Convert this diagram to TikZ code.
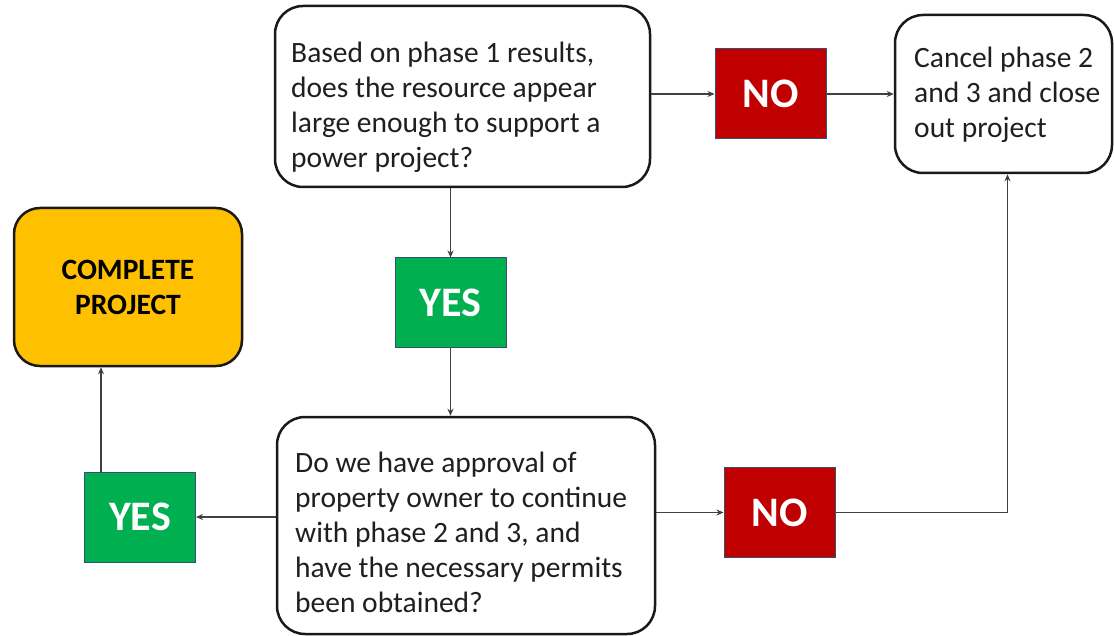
\documentclass[tikz,border=0pt]{standalone}
\usepackage{fontspec}
\setmainfont{Carlito}
\usetikzlibrary{arrows.meta}
\definecolor{cgreen}{HTML}{00B050}
\definecolor{cred}{HTML}{C00000}
\definecolor{corange}{HTML}{FFC000}
\definecolor{boxedge}{HTML}{34506E}
\begin{document}
\begin{tikzpicture}[x=1pt,y=-1pt,
  qbox/.style={draw=black!90, line width=2.5pt, rounded corners=28pt, fill=white, inner sep=0pt},
  qtext/.style={anchor=north west, align=left, inner sep=0pt, font=\fontsize{29.5}{35}\selectfont, text=black!88},
  ans/.style={draw=boxedge, line width=1pt, inner sep=0pt, text=white, font=\bfseries\fontsize{42}{42}\selectfont, minimum width=111pt, minimum height=90pt},
  conn/.style={draw=black!75, line width=1.3pt, -{Stealth[length=7pt,width=6pt]}}]
\fill[white] (0,0) rectangle (1114,636);
\useasboundingbox (0,0) rectangle (1114,636);

% boxes
\node[qbox, minimum width=375pt, minimum height=181pt] (q1) at (462.5,96.5) {};
\node[qbox, minimum width=378pt, minimum height=217pt] (q2) at (466,525.5) {};
\node[qbox, minimum width=217pt, minimum height=158pt] (c1) at (1003.5,94) {};
\node[qbox, fill=corange, minimum width=228pt, minimum height=158pt, rounded corners=26pt,
      align=center, font=\bfseries\fontsize{29.5}{35}\selectfont] (comp) at (128,287) {COMPLETE\\PROJECT};

% texts
\node[qtext] (q1t) at (291,42) {Based on phase 1 results,\\does the resource appear\\large enough to support a\\power project?};
\node[qtext] (q2t) at (295,452) {Do we have approval of\\property owner to continue\\with phase 2 and 3, and\\have the necessary permits\\been obtained?};
\node[qtext] (c1t) at (914,47) {Cancel phase 2\\and 3 and close\\out project};

% answers
\node[ans, fill=cred] (no1) at (770.5,94) {NO};
\node[ans, fill=cgreen] (yesm) at (450.5,303) {YES};
\node[ans, fill=cgreen] (yesl) at (140,517) {YES};
\node[ans, fill=cred] (no2) at (779.5,512.5) {NO};

% connectors
\draw[conn] (q1.east |- no1.west) -- (no1.west);
\draw[conn] (no1.east) -- (c1.west |- no1.east);
\draw[conn] (q1.south -| yesm.north) -- (yesm.north);
\draw[conn] (yesm.south) -- (q2.north -| yesm.south);
\draw[conn] (q2.west |- yesl.east) -- (yesl.east);
\draw[conn] ([xshift=-39pt]yesl.north) -- ([xshift=-39pt]yesl.north |- comp.south);
\draw[conn] (q2.east |- no2.west) -- (no2.west);
\draw[conn] (no2.east) -| ([xshift=4pt]c1.south);
\end{tikzpicture}
\end{document}
